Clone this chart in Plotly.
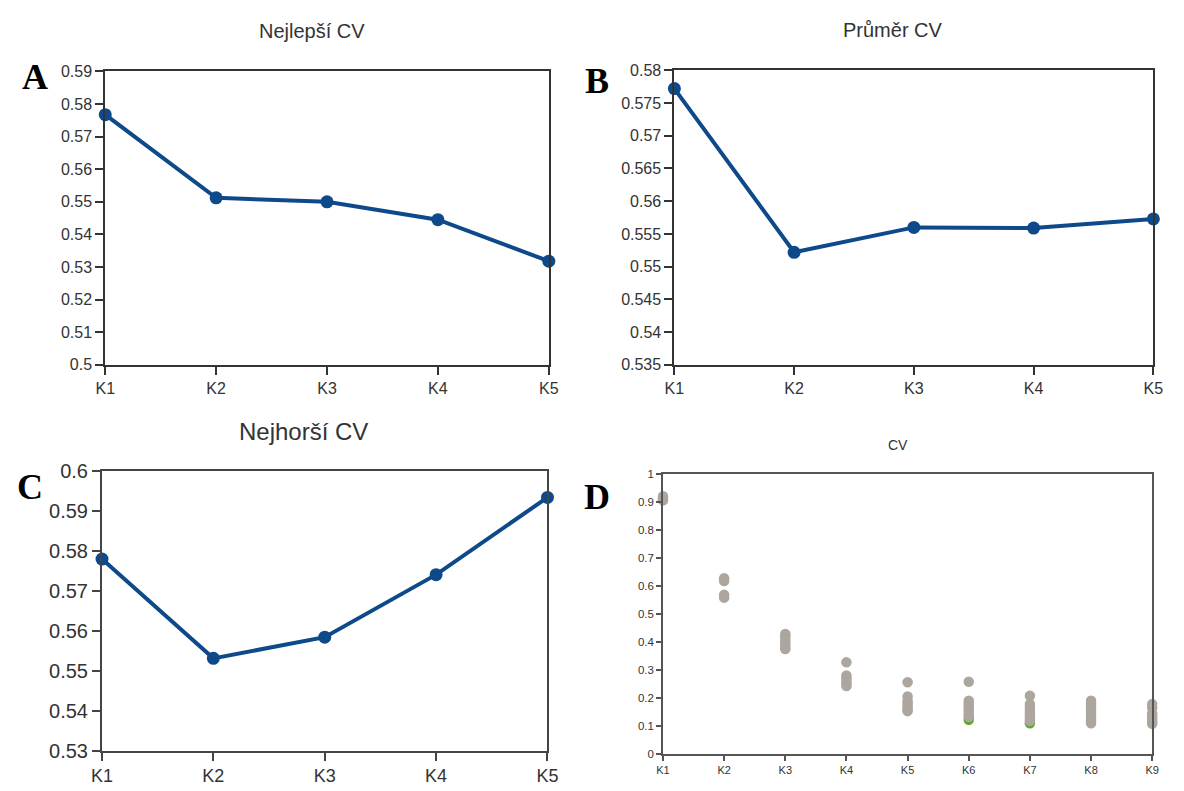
import plotly.graph_objects as go

# Categories
k5 = ["K1", "K2", "K3", "K4", "K5"]
k9 = ["K1", "K2", "K3", "K4", "K5", "K6", "K7", "K8", "K9"]

# Line panels
best_cv = [0.5767, 0.5512, 0.5500, 0.5445, 0.5318]
mean_cv = [0.5772, 0.5522, 0.5560, 0.5559, 0.5573]
worst_cv = [0.5779, 0.5531, 0.5584, 0.5740, 0.5933]

# Tick labels
best_ticks = [0.5, 0.51, 0.52, 0.53, 0.54, 0.55, 0.56, 0.57, 0.58, 0.59]
best_ticktext = ["0.5", "0.51", "0.52", "0.53", "0.54", "0.55", "0.56", "0.57", "0.58", "0.59"]
mean_ticks = [0.535, 0.54, 0.545, 0.55, 0.555, 0.56, 0.565, 0.57, 0.575, 0.58]
mean_ticktext = ["0.535", "0.54", "0.545", "0.55", "0.555", "0.56", "0.565", "0.57", "0.575", "0.58"]
worst_ticks = [0.53, 0.54, 0.55, 0.56, 0.57, 0.58, 0.59, 0.6]
worst_ticktext = ["0.53", "0.54", "0.55", "0.56", "0.57", "0.58", "0.59", "0.6"]
cv_ticks = [0, 0.1, 0.2, 0.3, 0.4, 0.5, 0.6, 0.7, 0.8, 0.9, 1]
cv_ticktext = ["0", "0.1", "0.2", "0.3", "0.4", "0.5", "0.6", "0.7", "0.8", "0.9", "1"]

# Scatter panel: CV values of every run per K
cv_k1 = [0.905, 0.912, 0.92]
cv_k2 = [0.627, 0.617, 0.568, 0.558]
cv_k3 = [0.428, 0.42, 0.41, 0.40, 0.39, 0.38, 0.375]
cv_k4 = [0.327, 0.28, 0.27, 0.26, 0.25, 0.243]
cv_k5 = [0.256, 0.205, 0.19, 0.18, 0.17, 0.16, 0.153]
cv_k6 = [0.258, 0.19, 0.18, 0.17, 0.16, 0.15, 0.14, 0.132]
cv_k7 = [0.208, 0.178, 0.165, 0.155, 0.145, 0.135, 0.125, 0.118]
cv_k8 = [0.19, 0.18, 0.17, 0.16, 0.15, 0.14, 0.13, 0.12, 0.11]
cv_k9 = [0.178, 0.165, 0.145, 0.135, 0.125, 0.115, 0.108]
# highlighted runs
best_k = ["K6", "K7"]
best_vals = [0.122, 0.11]

BLUE = "#0e4a8a"
GRAY_PT = "#aca69f"
GREEN = "#5aa92c"
TXT = "#333333"
FONT = "Liberation Sans"

fig = go.Figure()


def line_trace(y, xa, ya):
    return go.Scatter(
        x=k5, y=y, xaxis=xa, yaxis=ya, mode="lines+markers",
        line=dict(color=BLUE, width=4),
        marker=dict(color=BLUE, size=13),
        cliponaxis=False, showlegend=False,
    )


fig.add_trace(line_trace(best_cv, "x", "y"))
fig.add_trace(line_trace(mean_cv, "x2", "y2"))
fig.add_trace(line_trace(worst_cv, "x3", "y3"))

groups = [cv_k1, cv_k2, cv_k3, cv_k4, cv_k5, cv_k6, cv_k7, cv_k8, cv_k9]
sx, sy = [], []
for cat, vals in zip(k9, groups):
    sx += [cat] * len(vals)
    sy += vals

fig.add_trace(go.Scatter(
    x=best_k, y=best_vals, xaxis="x4", yaxis="y4", mode="markers",
    marker=dict(color=GREEN, size=10.5), cliponaxis=False, showlegend=False,
))
fig.add_trace(go.Scatter(
    x=sx, y=sy, xaxis="x4", yaxis="y4", mode="markers",
    marker=dict(color=GRAY_PT, size=10.5), cliponaxis=False, showlegend=False,
))


def xax(domain, anchor, cats, size, lw, lc, tl):
    return dict(
        domain=domain, anchor=anchor, type="category", categoryorder="array",
        categoryarray=cats, range=[0, len(cats) - 1],
        showline=True, mirror=True, linecolor=lc, linewidth=lw,
        ticks="outside", ticklen=tl, tickwidth=lw, tickcolor=lc,
        showgrid=False, zeroline=False,
        tickfont=dict(family=FONT, size=size, color=TXT), fixedrange=True,
    )


def yax(domain, anchor, rng, tv, tt, size, lw, lc, tl):
    return dict(
        domain=domain, anchor=anchor, range=rng, tickvals=tv, ticktext=tt,
        showline=True, mirror=True, linecolor=lc, linewidth=lw,
        ticks="outside", ticklen=tl, tickwidth=lw, tickcolor=lc,
        showgrid=False, zeroline=False,
        tickfont=dict(family=FONT, size=size, color=TXT), fixedrange=True,
    )


fig.update_layout(
    width=1184, height=791,
    margin=dict(l=0, r=0, t=0, b=0),
    paper_bgcolor="white", plot_bgcolor="white",
    xaxis=xax([0.0811, 0.4628], "y", k5, 16, 2, "#333333", 8),
    yaxis=yax([0.5398, 0.9216], "x", [0.5, 0.59], best_ticks, best_ticktext, 16, 2, "#333333", 8),
    xaxis2=xax([0.5709, 0.9831], "y2", k5, 16, 2, "#333333", 8),
    yaxis2=yax([0.5398, 0.9229], "x2", [0.535, 0.58], mean_ticks, mean_ticktext, 16, 2, "#333333", 8),
    xaxis3=xax([0.0783, 0.4617], "y3", k5, 18, 2, "#444444", 8),
    yaxis3=yax([0.0379, 0.4024], "x3", [0.53, 0.6], worst_ticks, worst_ticktext, 20, 2, "#444444", 8),
    xaxis4=xax([0.5611, 0.9821], "y4", k9, 11, 1.5, "#555555", 5),
    yaxis4=yax([0.0338, 0.3982], "x4", [0, 1], cv_ticks, cv_ticktext, 11.5, 1.5, "#555555", 5),
)

titles = [
    ("Nejlepší CV", 0.2593, 0.9735, 20),
    ("Průměr CV", 0.7593, 0.9747, 20),
    ("Nejhorší CV", 0.2517, 0.4526, 24),
    ("CV", 0.7635, 0.4353, 14),
]
for text, x, y, size in titles:
    fig.add_annotation(
        text=text, x=x, y=y, xref="paper", yref="paper",
        xanchor="center", yanchor="middle", showarrow=False,
        font=dict(family=FONT, size=size, color=TXT),
    )

letters = [("A", 0.0203, 0.914), ("B", 0.5042, 0.909), ("C", 0.016, 0.3805), ("D", 0.5042, 0.3679)]
for text, x, y in letters:
    fig.add_annotation(
        text="<b>" + text + "</b>", x=x, y=y, xref="paper", yref="paper",
        xanchor="center", yanchor="middle", showarrow=False,
        font=dict(family="Liberation Serif", size=36, color="black"),
    )

fig.write_html("out.html")
